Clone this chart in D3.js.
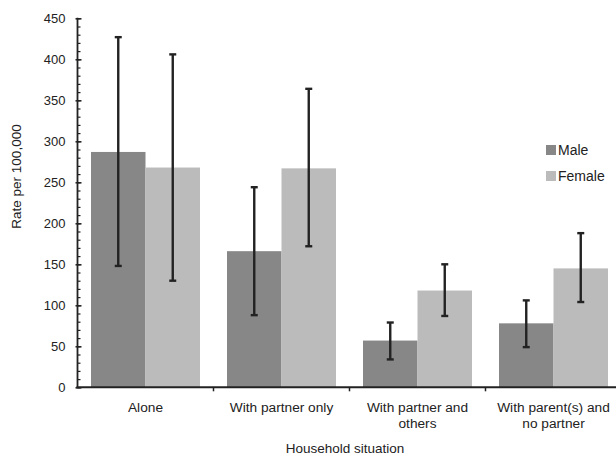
<!DOCTYPE html>
<html>
<head>
<meta charset="utf-8">
<script src="https://cdn.jsdelivr.net/npm/d3@7/dist/d3.min.js"></script>
<style>
  html, body { margin: 0; padding: 0; background: #fff; }
  svg { display: block; font-family: "Liberation Sans", Arial, sans-serif; }
</style>
</head>
<body>
<svg id="chart" width="616" height="457"></svg>
<script>
// Household situation categories (multi-line labels)
const categories = [
  ["Alone"],
  ["With partner only"],
  ["With partner and", "others"],
  ["With parent(s) and", "no partner"]
];
const sexes = ["Male", "Female"];

// Rates per 100,000 with 95% confidence limits
const maleRate   = [287, 166, 57, 78];
const maleLow    = [148, 88, 34, 49];
const maleHigh   = [427, 244, 79, 106];
const femaleRate = [268, 267, 118, 145];
const femaleLow  = [130, 172, 87, 104];
const femaleHigh = [406, 364, 150, 188];

const yTicks = [0, 50, 100, 150, 200, 250, 300, 350, 400, 450];

const colors = { Male: "#878787", Female: "#bbbbbb" };

const rows = [];
categories.forEach((c, i) => {
  rows.push({ cat: i, sex: "Male", v: maleRate[i], lo: maleLow[i], hi: maleHigh[i] });
  rows.push({ cat: i, sex: "Female", v: femaleRate[i], lo: femaleLow[i], hi: femaleHigh[i] });
});

const svg = d3.select("#chart");
const plotLeft = 77.5, plotTop = 18.3, plotBottom = 387.3, bandW = 136;

const x = d3.scaleBand()
  .domain(d3.range(categories.length))
  .range([plotLeft, plotLeft + bandW * categories.length])
  .paddingInner(0).paddingOuter(0);

const xs = d3.scaleBand()
  .domain(sexes)
  .range([13.5, bandW - 13.5])
  .padding(0);

const y = d3.scaleLinear().domain([0, 450]).range([plotBottom, plotTop]);

// Bars
svg.append("g").selectAll("rect")
  .data(rows)
  .join("rect")
  .attr("x", d => x(d.cat) + xs(d.sex))
  .attr("width", xs.bandwidth())
  .attr("y", d => y(d.v))
  .attr("height", d => y(0) - y(d.v))
  .attr("fill", d => colors[d.sex]);

// Error bars
const eb = svg.append("g").attr("stroke", "#222").attr("stroke-width", 2.4);
rows.forEach(d => {
  const cx = x(d.cat) + xs(d.sex) + xs.bandwidth() / 2;
  eb.append("line").attr("x1", cx).attr("x2", cx).attr("y1", y(d.lo)).attr("y2", y(d.hi));
  eb.append("line").attr("x1", cx - 3.5).attr("x2", cx + 3.5).attr("y1", y(d.hi)).attr("y2", y(d.hi));
  eb.append("line").attr("x1", cx - 3.5).attr("x2", cx + 3.5).attr("y1", y(d.lo)).attr("y2", y(d.lo));
});

// Y axis: labels on the left, minor ticks every 10, major ticks every 50
const yAxisG = svg.append("g").attr("transform", `translate(${plotLeft},0)`);
yAxisG.call(d3.axisLeft(y).tickValues(yTicks).tickSize(2).tickPadding(10).tickFormat(d3.format("d")));
yAxisG.call(g => g.select(".domain").remove());
yAxisG.selectAll(".tick line").attr("stroke", "#222").attr("stroke-width", 1.5);
yAxisG.selectAll("text").attr("font-size", 13).attr("fill", "#222")
  .attr("font-family", "Liberation Sans, Arial, sans-serif");

const minorG = svg.append("g").attr("transform", `translate(${plotLeft},0)`);
minorG.call(d3.axisRight(y).tickValues(d3.range(0, 451, 10)).tickSize(3).tickFormat(""));
minorG.call(g => g.select(".domain").remove());
minorG.selectAll(".tick line").attr("stroke", "#222").attr("stroke-width", 1.2);
const majorG = svg.append("g").attr("transform", `translate(${plotLeft},0)`);
majorG.call(d3.axisRight(y).tickValues(yTicks).tickSize(4).tickFormat(""));
majorG.call(g => g.select(".domain").remove());
majorG.selectAll(".tick line").attr("stroke", "#222").attr("stroke-width", 1.5);

svg.append("line")
  .attr("x1", plotLeft).attr("x2", plotLeft)
  .attr("y1", plotTop - 0.5).attr("y2", plotBottom + 1)
  .attr("stroke", "#222").attr("stroke-width", 1.8);

// X axis
svg.append("line")
  .attr("x1", plotLeft - 1).attr("x2", 616)
  .attr("y1", plotBottom).attr("y2", plotBottom)
  .attr("stroke", "#222").attr("stroke-width", 2);

const xTickG = svg.append("g");
xTickG.selectAll("line")
  .data(d3.range(1, categories.length))
  .join("line")
  .attr("x1", d => x(d)).attr("x2", d => x(d))
  .attr("y1", plotBottom).attr("y2", plotBottom + 4)
  .attr("stroke", "#222").attr("stroke-width", 1.5);

const xLab = svg.append("g")
  .attr("font-size", 13.7).attr("fill", "#222").attr("text-anchor", "middle");
categories.forEach((lines, i) => {
  const t = xLab.append("text").attr("x", x(i) + bandW / 2).attr("y", 412.3);
  lines.forEach((ln, j) => {
    t.append("tspan").attr("x", x(i) + bandW / 2).attr("dy", j === 0 ? 0 : 16).text(ln);
  });
});

// Axis titles
svg.append("text")
  .attr("x", 345).attr("y", 453.3)
  .attr("text-anchor", "middle").attr("font-size", 13.5).attr("fill", "#222")
  .text("Household situation");

svg.append("text")
  .attr("transform", "translate(20.5,176.5) rotate(-90)")
  .attr("text-anchor", "middle").attr("font-size", 13.5).attr("fill", "#222")
  .text("Rate per 100,000");

// Legend
const legend = svg.append("g");
sexes.forEach((s, i) => {
  legend.append("rect")
    .attr("x", 546).attr("y", 145 + i * 26)
    .attr("width", 10).attr("height", 10)
    .attr("fill", colors[s]);
  legend.append("text")
    .attr("x", 558).attr("y", 154.5 + i * 26)
    .attr("font-size", 14).attr("fill", "#222")
    .text(s);
});
</script>
</body>
</html>
